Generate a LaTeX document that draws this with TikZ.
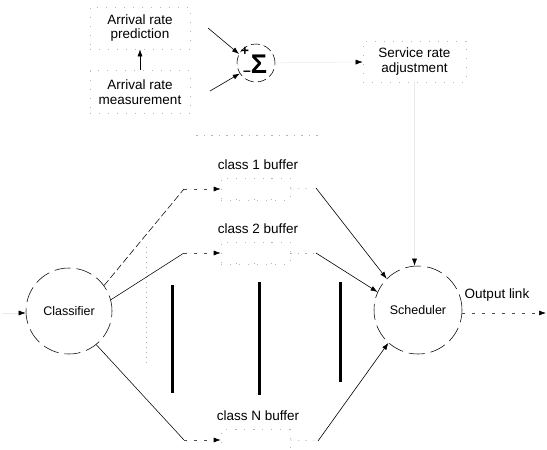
\documentclass[tikz,border=0pt]{standalone}
\usepackage{fontspec}
\setmainfont{Liberation Sans}
\usetikzlibrary{arrows.meta}
\begin{document}
\begin{tikzpicture}[x=1pt,y=-1pt,
  lbl/.style={font=\fontsize{13.5}{14.5}\selectfont, align=center, inner sep=0pt},
  faintbox/.style={draw=black!28, line width=0.6pt, dash pattern=on 1pt off 8pt, rectangle, inner sep=0pt},
  faintline/.style={draw=black!30, line width=0.6pt, dash pattern=on 1.5pt off 6pt},
  ring/.style={circle, draw=black, line width=0.55pt, dash pattern=on 16pt off 6pt, inner sep=0pt},
  tip/.style={-{Latex[length=7pt,width=5pt,color=black]}},
  arr/.style={tip, draw=black, line width=0.6pt},
  ghostarr/.style={tip, draw=black!8, line width=0.5pt},
  dasharr/.style={tip, draw=black!70, line width=0.6pt, dash pattern=on 3pt off 7pt},
  thinl/.style={draw=black, line width=0.55pt},
  bar/.style={draw=black, line width=3pt},
  sign/.style={font=\fontsize{14}{14}\selectfont\bfseries, inner sep=0pt}
]
\useasboundingbox (0,0) rectangle (547,450);

% --- control part ---
\node[faintbox, lbl, minimum width=100pt, minimum height=42pt] (pred) at (140,28) {Arrival rate\\prediction};
\node[faintbox, lbl, minimum width=100pt, minimum height=43pt] (meas) at (140,92) {Arrival rate\\measurement};
\draw[arr] (meas) -- (pred);

\node[circle, draw=black, line width=0.55pt, dash pattern=on 9pt off 4pt, minimum size=38pt, inner sep=0pt] (sum) at (256,63) {};
\node[inner sep=0pt, font=\fontsize{27}{27}\selectfont\bfseries] (sigma) at (259,64) {Σ};
\node[sign] (plus) at (245,51) {+};
\node[sign] (minus) at (247,73) {–};
\coordinate (in1) at (208,28);
\coordinate (in2) at (210,91);
\draw[arr] (in1) -- (sum.152);
\draw[arr] (in2) -- (sum.213);

\node[faintbox, lbl, minimum width=103pt, minimum height=41pt] (serv) at (414.5,61.5) {Service rate\\adjustment};
\draw[ghostarr] (sum) -- (serv);

% faint remnants of the enclosing frame
\coordinate (f1) at (196,135);
\coordinate (f2) at (318,135);
\draw[faintline] (f1) -- (f2);
\coordinate (f3) at (146,247);
\coordinate (f4) at (146,366);
\draw[faintline, dash pattern=on 1pt off 4pt] (f3) -- (f4);

% --- classifier and scheduler ---
\node[ring, minimum size=86pt, font=\fontsize{12.5}{12.5}\selectfont] (cls) at (69,311) {Classifier};
\node[ring, minimum size=88pt, font=\fontsize{12.5}{12.5}\selectfont] (sched) at (418,310) {Scheduler};

\coordinate (inp) at (2,313);
\draw[ghostarr] (inp) -- (inp -| cls.west);

\draw[ghostarr] (serv.south) -- (serv.south |- sched.north);

\coordinate (outp) at (546,313);
\draw[dasharr] (sched.east |- outp) -- (outp);
\node[lbl] (outl) at (497,295) {Output link};

% --- buffers ---
\node[faintbox, minimum width=69pt, minimum height=22pt] (buf1) at (255.5,189) {};
\node[faintbox, minimum width=69pt, minimum height=22pt] (buf2) at (255.5,253) {};
\node[faintbox, minimum width=69pt, minimum height=21pt] (bufN) at (255.5,440) {};
\foreach \b in {buf1,buf2,bufN}{
  \foreach \x in {236,254,271}{
    \draw[faintline, dash pattern=on 1pt off 20pt] (\x,0 |- \b.north) -- (\x,0 |- \b.south);
  }
}
\node[lbl] (l1) at (258,165) {class 1 buffer};
\node[lbl] (l2) at (258,229) {class 2 buffer};
\node[lbl] (lN) at (258,416) {class N buffer};

% classifier -> buffers
\coordinate (b1in) at (184,189);
\coordinate (b2in) at (184,253);
\coordinate (bNin) at (184,440);
\draw[thinl, dash pattern=on 7pt off 3pt] (cls.36) -- (b1in);
\draw[thinl] (cls.15) -- (b2in);
\draw[thinl] (cls.-51) -- (bNin);
\draw[dasharr] (b1in) -- (buf1.west);
\draw[dasharr] (b2in) -- (buf2.west);
\draw[dasharr] (bNin) -- (bufN.west);

% buffers -> scheduler
\coordinate (b1out) at (316,188);
\coordinate (b2out) at (316,253);
\coordinate (bNout) at (318,441);
\draw[faintline] (buf1.east) -- (b1out);
\draw[faintline] (buf2.east) -- (b2out);
\draw[faintline] (bufN.east) -- (bNout);
\draw[arr] (b1out) -- (sched.135);
\draw[arr] (b2out) -- (sched.156);
\draw[arr] (bNout) -- (sched.228);

% thick vertical "continuation" bars
\coordinate (v1a) at (172,285); \coordinate (v1b) at (172,393);
\coordinate (v2a) at (259,282); \coordinate (v2b) at (259,395);
\coordinate (v3a) at (340,282); \coordinate (v3b) at (340,382);
\draw[bar] (v1a) -- (v1b);
\draw[bar] (v2a) -- (v2b);
\draw[bar] (v3a) -- (v3b);
\end{tikzpicture}
\end{document}
